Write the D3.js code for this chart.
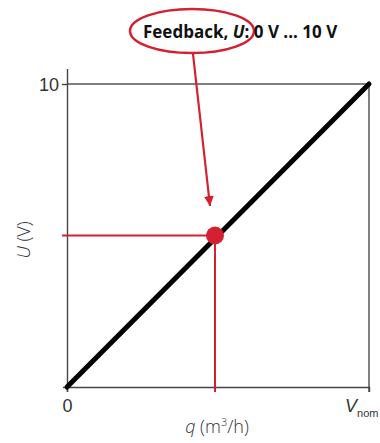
<!DOCTYPE html>
<html>
<head>
<meta charset="utf-8">
<script src="https://cdn.jsdelivr.net/npm/d3@7"></script>
<style>
  body { margin: 0; background: #fff; }
  svg { display: block; font-family: "Open Sans", sans-serif; }
</style>
</head>
<body>
<script>
// data
var lineQ = [0, 1];        // q as fraction of V_nom
var lineU = [0, 10];       // U in volt
var pointQ = [0.49];
var pointU = [5];
var yTicks = [10];
var xTicks = [0, 1];
var xTickLabels = ["0", "V_nom"];
var title = ["Feedback, ", "U", ": 0 V ... 10 V"];

var margin = { top: 84, right: 11, bottom: 56, left: 67 },
    width = 380 - margin.left - margin.right,
    height = 443 - margin.top - margin.bottom;

var red = "#d42030";

var svg = d3.select("body").append("svg")
    .attr("width", 380)
    .attr("height", 443);

var g = svg.append("g")
    .attr("transform", "translate(" + margin.left + "," + margin.top + ")");

var x = d3.scaleLinear().domain([0, 1]).range([0, 302]);
var y = d3.scaleLinear().domain([0, 10]).range([height, 0]);

// frame: top and right lines
g.append("line")
    .attr("x1", x(0)).attr("x2", x(1))
    .attr("y1", y(10)).attr("y2", y(10))
    .attr("stroke", "#000").attr("stroke-width", 1);
g.append("line")
    .attr("x1", x(1)).attr("x2", x(1))
    .attr("y1", y(10)).attr("y2", y(0) + 5)
    .attr("stroke", "#000").attr("stroke-width", 1);

// axes
var xAxis = d3.axisBottom(x).tickValues(xTicks).tickSize(5).tickFormat("");
var yAxis = d3.axisLeft(y).tickValues(yTicks).tickSize(5).tickFormat("");

var gx = g.append("g")
    .attr("transform", "translate(0," + height + ")")
    .call(xAxis);
gx.select(".domain")
    .attr("d", "M-4,0.5H" + (width + 1));
gx.selectAll("line, path").attr("stroke", "#444").attr("stroke-width", 1.4);

var gy = g.append("g").call(yAxis);
gy.select(".domain")
    .attr("d", "M0.5,-15V" + (height + 5));
gy.selectAll("line, path").attr("stroke", "#444").attr("stroke-width", 1.4);

// tick labels
gy.selectAll(".tick").append("text")
    .attr("x", -8).attr("dy", "0.35em")
    .attr("text-anchor", "end")
    .attr("fill", "#333").attr("font-size", 18).attr("font-weight", 300)
    .text(function (d) { return d; });

gx.selectAll(".tick").each(function (d, i) {
    var t = d3.select(this).append("text")
        .attr("y", 25).attr("fill", "#333")
        .attr("font-size", 18).attr("font-weight", 300);
    var lab = xTickLabels[i];
    if (lab.indexOf("_") < 0) {
        t.attr("text-anchor", "middle").text(lab);
    } else {
        var parts = lab.split("_");
        t.attr("text-anchor", "end").attr("x", 9);
        t.append("tspan").attr("font-style", "italic").text(parts[0]);
        t.append("tspan").attr("font-size", 11).attr("dy", 5).text(parts[1]);
    }
});

// axis titles
var xt = svg.append("text")
    .attr("x", 217).attr("y", 433)
    .attr("text-anchor", "middle")
    .attr("fill", "#333").attr("font-size", 18).attr("font-weight", 300);
xt.append("tspan").attr("font-style", "italic").text("q");
xt.append("tspan").text(" (m");
xt.append("tspan").attr("font-size", 11).attr("dy", -7).text("3");
xt.append("tspan").attr("dy", 7).text("/h)");

var yt = svg.append("text")
    .attr("transform", "translate(30,240) rotate(-90)")
    .attr("text-anchor", "middle")
    .attr("fill", "#333").attr("font-size", 18).attr("font-weight", 300);
yt.append("tspan").attr("font-style", "italic").text("U");
yt.append("tspan").text(" (V)");

// characteristic line
var line = d3.line()
    .x(function (d, i) { return x(lineQ[i]); })
    .y(function (d, i) { return y(lineU[i]); });
g.append("path")
    .datum(lineQ)
    .attr("d", line)
    .attr("fill", "none")
    .attr("stroke", "#000")
    .attr("stroke-width", 5)
    .attr("stroke-linecap", "round");

// red guide lines and point
pointQ.forEach(function (q, i) {
    var px = x(q), py = y(pointU[i]);
    g.append("line")
        .attr("x1", -5).attr("x2", px)
        .attr("y1", py).attr("y2", py)
        .attr("stroke", red).attr("stroke-width", 2);
    g.append("line")
        .attr("x1", px).attr("x2", px)
        .attr("y1", py).attr("y2", height + 5)
        .attr("stroke", red).attr("stroke-width", 2);
    g.append("circle")
        .attr("cx", px).attr("cy", py).attr("r", 9)
        .attr("fill", red);
});

// annotation
svg.append("defs").append("marker")
    .attr("id", "arrow")
    .attr("viewBox", "0 0 10 10")
    .attr("refX", 10).attr("refY", 5)
    .attr("markerWidth", 4.5).attr("markerHeight", 6)
    .attr("markerUnits", "strokeWidth")
    .attr("orient", "auto")
    .append("path")
    .attr("d", "M0,0L10,5L0,10Z")
    .attr("fill", red);

svg.append("ellipse")
    .attr("cx", 192).attr("cy", 31)
    .attr("rx", 62).attr("ry", 22)
    .attr("fill", "none")
    .attr("stroke", red).attr("stroke-width", 2.5);

var tt = svg.append("text")
    .attr("x", 143).attr("y", 38)
    .attr("font-size", 17).attr("font-weight", "bold")
    .attr("fill", "#111");
tt.append("tspan").text(title[0]);
tt.append("tspan").attr("font-style", "italic").text(title[1]);
tt.append("tspan").text(title[2]);

svg.append("line")
    .attr("x1", 193).attr("y1", 54)
    .attr("x2", 210).attr("y2", 206)
    .attr("stroke", red).attr("stroke-width", 2.2)
    .attr("marker-end", "url(#arrow)");
</script>
</body>
</html>
